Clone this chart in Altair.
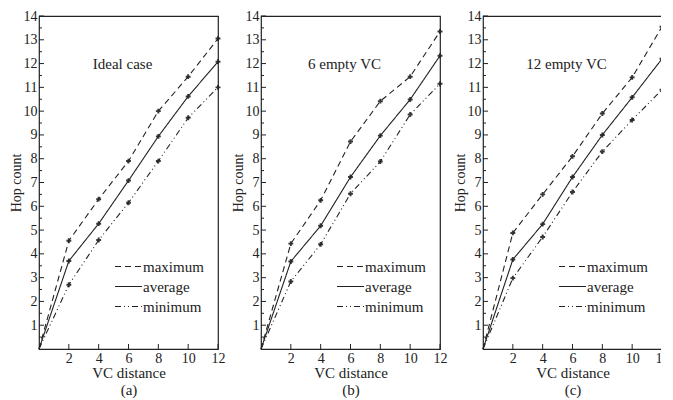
import altair as alt
import pandas as pd

# ---- data ----
vc_distance = [0, 2, 4, 6, 8, 10, 12]
series_names = ["maximum", "average", "minimum"]

a_max = [0, 4.55, 6.3, 7.9, 10.0, 11.45, 13.05]
a_avg = [0, 3.7, 5.27, 7.08, 8.94, 10.62, 12.08]
a_min = [0, 2.7, 4.58, 6.15, 7.9, 9.72, 11.0]

b_max = [0, 4.43, 6.25, 8.72, 10.42, 11.45, 13.35]
b_avg = [0, 3.68, 5.18, 7.23, 8.97, 10.49, 12.33]
b_min = [0, 2.84, 4.4, 6.53, 7.88, 9.86, 11.15]

c_max = [0, 4.88, 6.5, 8.1, 9.9, 11.42, 13.55]
c_avg = [0, 3.76, 5.25, 7.23, 9.0, 10.58, 12.2]
c_min = [0, 2.98, 4.71, 6.6, 8.3, 9.63, 10.9]

panel_titles = ["Ideal case", "6 empty VC", "12 empty VC"]
panel_captions = ["(a)", "(b)", "(c)"]

y_major = list(range(1, 15))
y_minor = [v + 0.5 for v in range(0, 14)]
x_major = [2, 4, 6, 8, 10, 12]

FONT = "Liberation Serif"
INK = "#222222"
DASHES = [[6, 4], [1, 0], [6, 3, 1, 3, 1, 3]]
W, H = 179, 333


def panel(maxv, avgv, minv, title, caption):
    rows = []
    for name, vals in zip(series_names, [maxv, avgv, minv]):
        for x, y in zip(vc_distance, vals):
            rows.append({"x": x, "y": y, "series": name})
    df = pd.DataFrame(rows)

    xs = alt.Scale(domain=[0, 12], nice=False, zero=True)
    ys = alt.Scale(domain=[0, 14], nice=False, zero=True)

    xaxis = alt.Axis(values=x_major, ticks=False, domain=False, grid=False,
                     labelOverlap=False, labelFlush=False,
                     labelFont=FONT, labelFontSize=14, labelColor=INK,
                     labelPadding=2, title=["VC distance", caption],
                     titleFont=FONT, titleFontSize=15, titleFontWeight="normal",
                     titleColor=INK, titlePadding=0, titleLineHeight=17)
    yaxis = alt.Axis(values=y_major, ticks=False, domain=False, grid=False,
                     labelOverlap=False, labelFlush=False,
                     labelFont=FONT, labelFontSize=14, labelColor=INK,
                     labelPadding=2, title="Hop  count", titleFont=FONT,
                     titleFontSize=14, titleFontWeight="normal",
                     titleColor=INK, titlePadding=0)

    lines = alt.Chart(df).mark_line(color=INK, strokeWidth=1.1).encode(
        x=alt.X("x:Q", scale=xs, axis=xaxis),
        y=alt.Y("y:Q", scale=ys, axis=yaxis),
        strokeDash=alt.StrokeDash("series:N",
                                  scale=alt.Scale(domain=series_names, range=DASHES),
                                  legend=alt.Legend(orient="none", legendX=75, legendY=243,
                                                    title=None, symbolType="stroke",
                                                    symbolSize=729, symbolStrokeWidth=1.2,
                                                    symbolStrokeColor=INK, clipHeight=15,
                                                    labelFont=FONT, labelFontSize=15,
                                                    labelColor=INK, labelOffset=0,
                                                    rowPadding=4, padding=0)),
        detail="series:N",
    )

    pts = alt.Chart(df[df["x"] > 0]).mark_point(shape="cross", size=24, filled=True,
                                                color=INK, opacity=0.9).encode(
        x=alt.X("x:Q", scale=xs, axis=xaxis), y=alt.Y("y:Q", scale=ys, axis=yaxis),
        detail="series:N")

    ymaj = alt.Chart(pd.DataFrame({"v": y_major})).mark_rule(color=INK, strokeWidth=1).encode(
        y=alt.Y("v:Q", scale=ys, axis=yaxis), x=alt.value(0), x2=alt.value(5))
    ymin = alt.Chart(pd.DataFrame({"v": y_minor})).mark_rule(color=INK, strokeWidth=1).encode(
        y=alt.Y("v:Q", scale=ys, axis=yaxis), x=alt.value(0), x2=alt.value(3))
    xmaj = alt.Chart(pd.DataFrame({"v": x_major})).mark_rule(color=INK, strokeWidth=1).encode(
        x=alt.X("v:Q", scale=xs, axis=xaxis), y=alt.value(H), y2=alt.value(H - 5))

    label = alt.Chart(pd.DataFrame({"x": [5.6], "y": [12.0], "t": [title]})).mark_text(
        font=FONT, fontSize=15, color=INK).encode(
        x=alt.X("x:Q", scale=xs, axis=xaxis), y=alt.Y("y:Q", scale=ys, axis=yaxis), text="t:N")

    return alt.layer(lines, pts, ymaj, ymin, xmaj, label).properties(width=W, height=H)


chart = alt.hconcat(
    panel(a_max, a_avg, a_min, panel_titles[0], panel_captions[0]),
    panel(b_max, b_avg, b_min, panel_titles[1], panel_captions[1]),
    panel(c_max, c_avg, c_min, panel_titles[2], panel_captions[2]),
    spacing=4,
).resolve_scale(strokeDash="independent").resolve_legend(strokeDash="independent").configure_view(
    stroke=INK, strokeWidth=1.2
).configure_axis(labelOverlap=False).properties(
    padding={"left": 0, "top": 0, "right": -9, "bottom": 0}, background="white")

chart.save("out.html", embed_options={"renderer": "svg", "actions": False})
